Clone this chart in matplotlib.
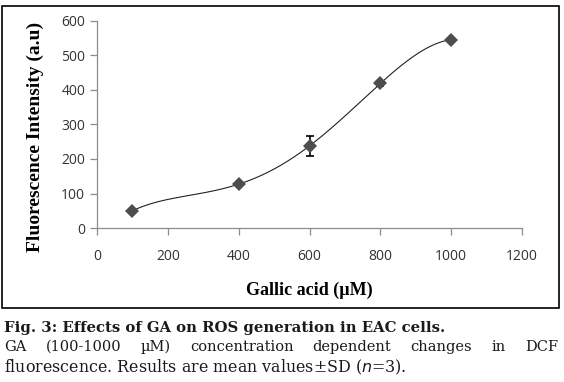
import numpy as np
import matplotlib.pyplot as plt
from matplotlib.patches import Rectangle

# data
conc = [100, 400, 600, 800, 1000]
intensity = [50, 127, 238, 419, 546]
sd = [0, 0, 29, 8, 5]

x_ticks = [0, 200, 400, 600, 800, 1000, 1200]
y_ticks = [0, 100, 200, 300, 400, 500, 600]

fig = plt.figure(figsize=(5.64, 3.82), dpi=100)
ax = fig.add_axes([97 / 564, 1 - 228 / 382, 425 / 564, 207 / 382])

# smooth curve through the points (4th order polynomial passes through all 5)
coef = np.polyfit(conc, intensity, 4)
xs = np.linspace(conc[0], conc[-1], 300)
ax.plot(xs, np.polyval(coef, xs), color='#222222', lw=0.8)

ax.errorbar(conc, intensity, yerr=sd, fmt='none', ecolor='black', elinewidth=1.2,
            capsize=3, capthick=1.2)
ax.plot(conc, intensity, 'D', color='#4d4d4d', markersize=7, markeredgewidth=0)

ax.set_xlim(0, 1200)
ax.set_ylim(0, 600)
ax.set_xticks(x_ticks)
ax.set_yticks(y_ticks)
for s in ['top', 'right']:
    ax.spines[s].set_visible(False)
for s in ['left', 'bottom']:
    ax.spines[s].set_color('#8c8c8c')
    ax.spines[s].set_linewidth(0.9)
ax.tick_params(axis='both', colors='#8c8c8c', length=5, width=0.9,
               labelcolor='#333333', labelsize=10)
ax.tick_params(axis='x', pad=10)
for lab in ax.get_xticklabels() + ax.get_yticklabels():
    lab.set_family('Open Sans')

ax.set_xlabel('Gallic acid (µM)', family='Liberation Serif', fontweight='bold',
              fontsize=13, labelpad=13)
ax.set_ylabel('Fluorescence Intensity (a.u)', family='Liberation Serif',
              fontweight='bold', fontsize=14)
ax.yaxis.set_label_coords(-0.125, 0.44)

# outer frame
fig.patches.append(Rectangle((2 / 564, 1 - 308 / 382), 557 / 564, 302 / 382,
                             transform=fig.transFigure, fill=False,
                             edgecolor='black', lw=1.2))

# caption
fig.canvas.draw()
r = fig.canvas.get_renderer()


def fit_line(txt, y, right, **kw):
    t = fig.text(4 / 564, 1 - y / 382, txt, va='center', ha='left',
                 family='DejaVu Serif', color='#1a1a1a', fontsize=10, **kw)
    w = t.get_window_extent(r).width
    t.set_fontsize(10 * (right - 4) / w)
    return t


fit_line('Fig. 3: Effects of GA on ROS generation in EAC cells.', 328, 445,
         fontweight='bold')
fit_line('fluorescence. Results are mean values±SD ($n$=3).', 367, 405)

# justified second line
words = 'GA (100-1000 µM) concentration dependent changes in DCF'.split()
tobjs = [fig.text(0, 1 - 347 / 382, w, va='center', ha='left', family='DejaVu Serif',
                  color='#1a1a1a', fontsize=10.5) for w in words]
widths = [t.get_window_extent(r).width for t in tobjs]
left, right = 4, 558
gap = (right - left - sum(widths)) / (len(words) - 1)
xpos = left
for t, w in zip(tobjs, widths):
    t.set_x(xpos / 564)
    xpos += w + gap

fig.savefig('out.png', dpi=100)
